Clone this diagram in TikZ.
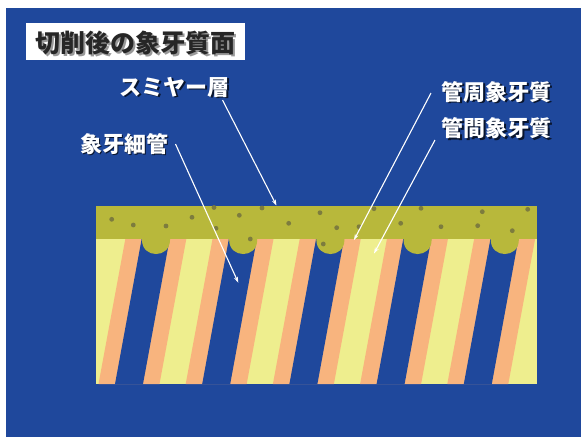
\documentclass[tikz,border=0pt]{standalone}
\usepackage{fontspec}
\newfontfamily\jp{Noto Sans CJK JP}
\usetikzlibrary{arrows.meta}
\definecolor{bgblue}{HTML}{1F489C}
\definecolor{smear}{HTML}{B8B83B}
\definecolor{grain}{HTML}{7D7C3E}
\definecolor{inter}{HTML}{EEEE8E}
\definecolor{peri}{HTML}{F8B47E}
\begin{document}
\begin{tikzpicture}[x=1pt,y=-1pt,
  lbl/.style={text=white, font=\jp\bfseries\fontsize{22}{22}\selectfont, inner sep=0pt},
  lblsh/.style={text=black, opacity=0.7, font=\jp\bfseries\fontsize{22}{22}\selectfont, inner sep=0pt},
  ttl/.style={text=black!85, font=\jp\bfseries\fontsize{25}{25}\selectfont, inner sep=0pt},
  ttlsh/.style={text=black!40, font=\jp\bfseries\fontsize{25}{25}\selectfont, inner sep=0pt},
  pointer/.style={draw=white, line width=1.1pt, -{Stealth[length=6pt,width=4pt]}},
  dot/.style={fill=grain}]
\useasboundingbox (0,0) rectangle (581,437);
\fill[white] (0,0) rectangle (581,437);
\fill[bgblue] (6,8) rectangle (581,437);

% dentine block: intertubular ground, then peritubular collars and open tubules
\fill[inter] (96,238) rectangle (537,384);
\begin{scope}
  \clip (96,238) rectangle (537,384);
  \foreach \k in {0,...,4} {
    \pgfmathsetmacro{\xa}{142+87.2*\k}
    \fill[peri] (\xa-16.5,238) -- (\xa+44.5,238) -- (\xa+17.5,384) -- (\xa-43.5,384) -- cycle;
    \fill[bgblue] (\xa,237) -- (\xa+28,237) -- (\xa+1,384) -- (\xa-27,384) -- cycle;
  }
\end{scope}

% smear layer with plugs reaching into the tubule openings
\fill[smear] (96,206) rectangle (537,238.5);
\foreach \k in {0,...,4} {
  \pgfmathsetmacro{\xa}{142+87.2*\k}
  \fill[smear] (\xa,237) -- (\xa,240) .. controls (\xa,258.7) and (\xa+28,258.7) .. (\xa+28,240) -- (\xa+28,237) -- cycle;
}
\foreach \p in {(111.7,219.3),(133.3,225),(166,226),(192,217.3),(214,207.5),(239.3,215.3),
  (262,208),(216,228.3),(250.3,239),(288.7,223.3),(320,212.7),(336.7,227.7),(359,226.7),
  (374,208.7),(323.3,244),(400.7,223.3),(421,208.3),(441,226.7),(477.7,225.7),(482.3,211.7),
  (527.7,209.3),(512.3,230.7)}
  \fill[dot] \p circle[radius=2.4];

% title
\fill[white] (26,23) rectangle (245,60);
\node[ttlsh] (title-sh) at (137,45) {切削後の象牙質面};
\node[ttl] (title) at (135.5,43.5) {切削後の象牙質面};

% labels with drop shadow
\node[lblsh] (smear-sh) at (176,88.5) {スミヤー層};
\node[lbl] (smearlbl) at (174.5,87) {スミヤー層};
\node[lblsh] (tubule-sh) at (125.5,145.5) {象牙細管};
\node[lbl] (tubule) at (124,144) {象牙細管};
\node[lblsh] (peri-sh) at (498.2,93.2) {管周象牙質};
\node[lbl] (perilbl) at (496.7,91.7) {管周象牙質};
\node[lblsh] (inter-sh) at (498.2,129.8) {管間象牙質};
\node[lbl] (interlbl) at (496.7,128.3) {管間象牙質};

% pointer ends
\coordinate (smear-s) at (222.5,100);
\coordinate (smear-e) at (276.5,205.5);
\coordinate (tubule-s) at (175.5,144);
\coordinate (tubule-e) at (238.3,282.7);
\coordinate (peri-s) at (431,93);
\coordinate (peri-e) at (354,240);
\coordinate (inter-s) at (435,140);
\coordinate (inter-e) at (374,253.5);
\draw[pointer] (smear-s) -- (smear-e);
\draw[pointer] (tubule-s) -- (tubule-e);
\draw[pointer] (peri-s) -- (peri-e);
\draw[pointer] (inter-s) -- (inter-e);
\end{tikzpicture}
\end{document}
